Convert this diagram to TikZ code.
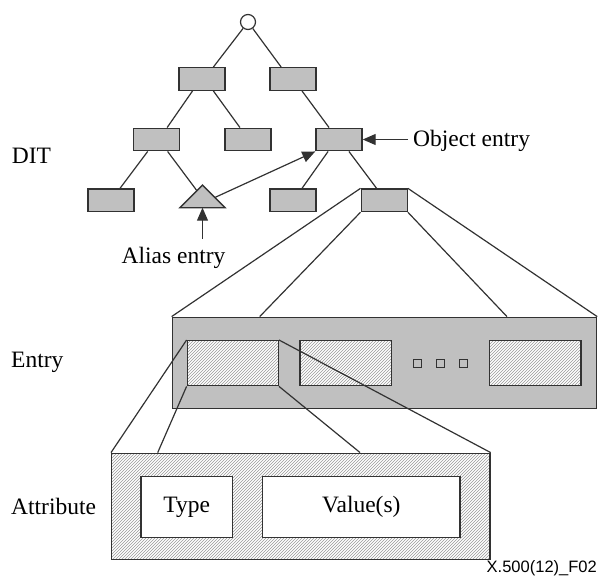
\documentclass[tikz,border=0pt]{standalone}
\usepackage{fontspec}
\setmainfont{Liberation Serif}
\newfontfamily\footfont{Liberation Sans}
\usetikzlibrary{arrows.meta,calc,patterns}
\definecolor{boxgray}{RGB}{192,192,192}
\definecolor{ink}{RGB}{50,50,50}
\begin{document}
\begin{tikzpicture}[x=1pt,y=-1pt,
  ln/.style={draw=ink,line width=1.2pt},
  arr/.style={ln,-{Triangle[length=13pt,width=11pt]}},
  gbox/.style={draw=ink,line width=1.4pt,fill=boxgray,inner sep=0pt},
  tbox/.style={gbox,minimum width=46pt,minimum height=22.5pt},
  hatch/.style={draw=ink,line width=1.4pt,inner sep=0pt,preaction={fill=white},pattern=north east lines,pattern color=black!40},
  wbox/.style={draw=ink,line width=1.4pt,fill=white,inner sep=0pt},
  lbl/.style={font=\fontsize{23.5}{28}\selectfont,inner sep=0pt}
]
\useasboundingbox (0,0) rectangle (598,576);

% DIT tree
\node[draw=ink,line width=1.2pt,fill=white,circle,minimum size=15pt,inner sep=0pt] (r) at (248,22) {};
\node[tbox] (b1) at (202,79) {};
\node[tbox] (b2) at (293,79) {};
\node[tbox] (b3) at (156.7,139.5) {};
\node[tbox] (b4) at (248,139.5) {};
\node[tbox] (b5) at (339,139.5) {};
\node[tbox] (b6) at (111,200.3) {};
\node[tbox] (b7) at (293,200.3) {};
\node[tbox] (b8) at (384.2,200.3) {};
\coordinate (ta) at (202.5,185);
\coordinate (tl) at (180,207.7);
\coordinate (tr) at (225,207.7);
\coordinate (tb) at (202.5,207.7);
\draw[gbox,line join=miter] (ta) -- (tl) -- (tr) -- cycle;

\draw[ln] (r) -- ($(b1.north west)!0.74!(b1.north east)$);
\draw[ln] (r) -- ($(b2.north west)!0.25!(b2.north east)$);
\draw[ln] ($(b1.south west)!0.30!(b1.south east)$) -- ($(b3.north west)!0.72!(b3.north east)$);
\draw[ln] ($(b1.south west)!0.74!(b1.south east)$) -- ($(b4.north west)!0.33!(b4.north east)$);
\draw[ln] ($(b2.south west)!0.69!(b2.south east)$) -- ($(b5.north west)!0.29!(b5.north east)$);
\draw[ln] ($(b3.south west)!0.31!(b3.south east)$) -- ($(b6.north west)!0.69!(b6.north east)$);
\draw[ln] ($(b3.south west)!0.73!(b3.south east)$) -- ($(ta)!0.25!(tl)$);
\draw[ln] ($(b5.south west)!0.27!(b5.south east)$) -- ($(b7.north west)!0.69!(b7.north east)$);
\draw[ln] ($(b5.south west)!0.71!(b5.south east)$) -- ($(b8.north west)!0.34!(b8.north east)$);

\draw[arr] ($(ta)!0.55!(tr)$) -- (b5.south west);

% labels
\node[lbl,anchor=base west] (dit) at (11.7,163.3) {DIT};
\node[lbl,anchor=base west] (obj) at (413,146.5) {Object entry};
\draw[arr] ($(obj.west |- b5.east)+(-5,0)$) -- (b5.east);
\node[lbl,anchor=base] (alias) at (173.5,263.3) {Alias entry};
\draw[arr] ($(alias.north -| tb)+(0,-8)$) -- (tb);

% Entry
\node[gbox,minimum width=424.2pt,minimum height=91.4pt] (E) at (384.4,363) {};
\node[hatch,minimum width=91pt,minimum height=45pt] (e1) at (232.8,363.2) {};
\node[hatch,minimum width=91.7pt,minimum height=45pt] (e2) at (345.85,363.2) {};
\node[hatch,minimum width=91.7pt,minimum height=45pt] (e3) at (535.15,363.2) {};
\node[gbox,line width=1pt,minimum size=8pt] (d1) at (417.7,363.3) {};
\node[gbox,line width=1pt,minimum size=8pt] (d2) at (440.7,363.3) {};
\node[gbox,line width=1pt,minimum size=8pt] (d3) at (463.3,363.3) {};
\node[lbl,anchor=base west] (entry) at (11,367.3) {Entry};

\draw[ln] (b8.north west) -- (E.north west);
\draw[ln] (b8.south west) -- ($(E.north west)!0.207!(E.north east)$);
\draw[ln] (b8.south east) -- ($(E.north west)!0.788!(E.north east)$);
\draw[ln] (b8.north east) -- (E.north east);

% Attribute
\node[hatch,minimum width=378.3pt,minimum height=106pt] (A) at (300.85,506.3) {};
\node[wbox,minimum width=91.3pt,minimum height=60.6pt,font=\fontsize{23.5}{28}\selectfont] (type) at (186.65,507) {Type};
\node[wbox,minimum width=197.3pt,minimum height=60.6pt,font=\fontsize{23.5}{28}\selectfont] (val) at (361.35,507) {Value(s)};
\node[lbl,anchor=base west] (attr) at (11,514.5) {Attribute};

\draw[ln] (e1.north west) -- (A.north west);
\draw[ln] (e1.south west) -- ($(A.north west)!0.123!(A.north east)$);
\draw[ln] (e1.south east) -- ($(A.north west)!0.656!(A.north east)$);
\draw[ln] (e1.north east) -- (A.north east);

\node[font=\footfont\fontsize{16.5}{18}\selectfont,anchor=base east,inner sep=0pt] (fig) at (597,572.3) {X.500(12)\_F02};
\end{tikzpicture}
\end{document}
